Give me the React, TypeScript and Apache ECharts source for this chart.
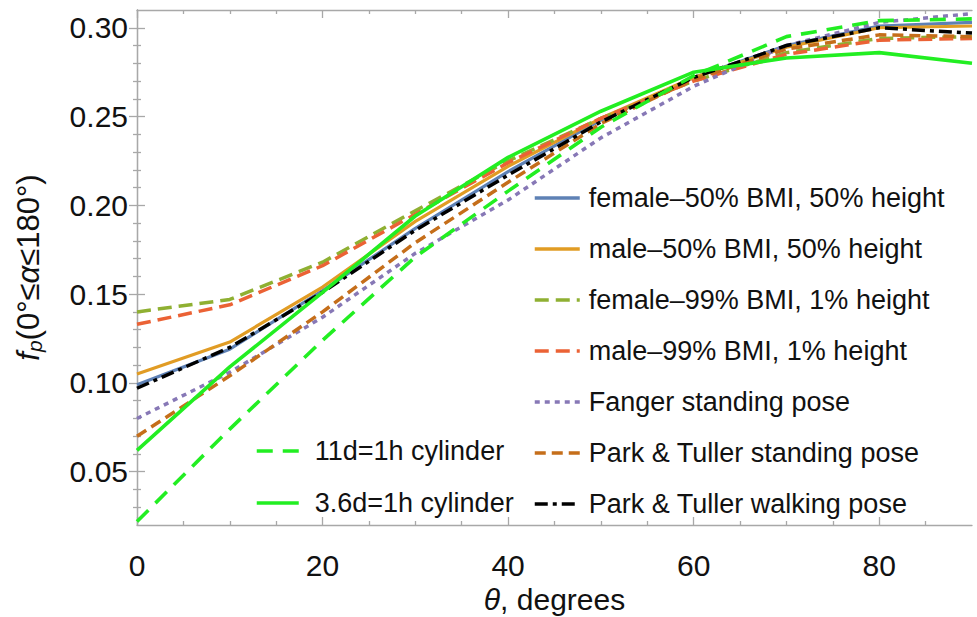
import React, { useEffect, useRef } from 'react';
import * as echarts from 'echarts';

const theta = [0, 10, 20, 30, 40, 50, 60, 70, 80, 90];

const female50 = [0.099, 0.119, 0.152, 0.187, 0.219, 0.248, 0.272, 0.290, 0.301, 0.303];
const male50 = [0.105, 0.123, 0.154, 0.191, 0.222, 0.249, 0.272, 0.289, 0.300, 0.301];
const female99 = [0.140, 0.147, 0.168, 0.197, 0.225, 0.249, 0.270, 0.286, 0.294, 0.295];
const male99 = [0.133, 0.144, 0.166, 0.195, 0.224, 0.249, 0.270, 0.285, 0.293, 0.294];
const fanger = [0.080, 0.106, 0.137, 0.173, 0.203, 0.238, 0.267, 0.290, 0.303, 0.308];
const ptStanding = [0.070, 0.104, 0.140, 0.179, 0.213, 0.246, 0.271, 0.288, 0.296, 0.295];
const ptWalking = [0.097, 0.120, 0.151, 0.186, 0.217, 0.247, 0.272, 0.290, 0.300, 0.297];
const cyl11 = [0.022, 0.074, 0.124, 0.171, 0.208, 0.244, 0.273, 0.295, 0.304, 0.305];
const cyl36 = [0.062, 0.109, 0.151, 0.194, 0.227, 0.253, 0.275, 0.283, 0.286, 0.280];

const xMajor = [0, 20, 40, 60, 80];
const xMinor = [5, 10, 15, 25, 30, 35, 45, 50, 55, 65, 70, 75, 85];
const yMajor = [0.05, 0.1, 0.15, 0.2, 0.25, 0.3];
const yMinor = [0.03, 0.04, 0.06, 0.07, 0.08, 0.09, 0.11, 0.12, 0.13, 0.14, 0.16, 0.17, 0.18, 0.19,
  0.21, 0.22, 0.23, 0.24, 0.26, 0.27, 0.28, 0.29];

const names = [
  'female–50% BMI, 50% height',
  'male–50% BMI, 50% height',
  'female–99% BMI, 1% height',
  'male–99% BMI, 1% height',
  'Fanger standing pose',
  'Park & Tuller standing pose',
  'Park & Tuller walking pose',
  '11d=1h cylinder',
  '3.6d=1h cylinder',
];

const FONT = '"Liberation Sans", Arial, Helvetica, sans-serif';
const FRAME = '#a8a8a8';
const TEXT = '#111111';

export default function App() {
  const ref = useRef<HTMLDivElement>(null);
  useEffect(() => {
    const chart = echarts.init(ref.current!, null, { renderer: 'svg' });
    const mk = (name: string, vals: number[], color: string, type: any, width = 3) => ({
      name,
      type: 'line',
      data: theta.map((t, i) => [t, vals[i]]),
      symbol: 'none',
      showSymbol: false,
      lineStyle: { color, width, type },
      itemStyle: { color },
      emphasis: { disabled: true },
    });
    const xCommon = { type: 'value', min: 0, max: 90, splitLine: { show: false } };
    const yCommon = { type: 'value', min: 0.02, max: 0.31, splitLine: { show: false } };
    const tickStyle = { color: FRAME, width: 1.3 };
    const legendCommon = {
      orient: 'vertical',
      selectedMode: false,
      itemHeight: 20,
      itemStyle: { opacity: 0 },
      lineStyle: { width: 3.5 },
      textStyle: { fontSize: 27, color: TEXT, fontFamily: FONT, lineHeight: 30 },
    };
    const option: any = {
      animation: false,
      grid: { left: 137, right: 5, top: 10, bottom: 92, containLabel: false, outerBoundsMode: 'none' },
      xAxis: [
        {
          ...xCommon, position: 'bottom',
          axisLine: { show: true, lineStyle: tickStyle },
          axisTick: { show: true, inside: true, length: 8, customValues: xMajor, lineStyle: tickStyle },
          axisLabel: { customValues: xMajor, fontSize: 30, color: TEXT, margin: 25, fontFamily: FONT },
          name: '{i|θ}, degrees', nameLocation: 'middle', nameGap: 57,
          nameTextStyle: { fontSize: 30, lineHeight: 30, color: TEXT, fontFamily: FONT, rich: { i: { fontSize: 30, lineHeight: 30, fontStyle: 'italic', color: TEXT, fontFamily: FONT } } },
        },
        {
          ...xCommon, position: 'bottom',
          axisLine: { show: false },
          axisTick: { show: true, inside: true, length: 4, customValues: xMinor, lineStyle: tickStyle },
          axisLabel: { show: false },
        },
        {
          ...xCommon, position: 'top',
          axisLine: { show: true, lineStyle: tickStyle },
          axisTick: { show: true, inside: true, length: 8, customValues: xMajor, lineStyle: tickStyle },
          axisLabel: { show: false },
        },
        {
          ...xCommon, position: 'top',
          axisLine: { show: false },
          axisTick: { show: true, inside: true, length: 4, customValues: xMinor, lineStyle: tickStyle },
          axisLabel: { show: false },
        },
      ],
      yAxis: [
        {
          ...yCommon, position: 'left',
          axisLine: { show: true, lineStyle: tickStyle },
          axisTick: { show: true, inside: true, length: 8, customValues: yMajor, lineStyle: tickStyle },
          axisLabel: { customValues: yMajor, fontSize: 30, color: TEXT, margin: 9, fontFamily: FONT, formatter: (v: number) => v.toFixed(2) },
          name: '{i|f}{sub|p}(0°≤{i|α}≤180°)', nameLocation: 'middle', nameGap: 92, nameRotate: 90,
          nameTextStyle: {
            fontSize: 31, color: TEXT, fontFamily: FONT,
            rich: {
              i: { fontSize: 31, fontStyle: 'italic', color: TEXT, fontFamily: FONT },
              sub: { fontSize: 21, fontStyle: 'italic', color: TEXT, fontFamily: FONT, padding: [13, 0, 0, 0] },
            },
          },
        },
        {
          ...yCommon, position: 'left',
          axisLine: { show: false },
          axisTick: { show: true, inside: true, length: 4, customValues: yMinor, lineStyle: tickStyle },
          axisLabel: { show: false },
        },
        {
          ...yCommon, position: 'right',
          axisLine: { show: true, lineStyle: tickStyle },
          axisTick: { show: true, inside: true, length: 8, customValues: yMajor, lineStyle: tickStyle },
          axisLabel: { show: false },
        },
        {
          ...yCommon, position: 'right',
          axisLine: { show: false },
          axisTick: { show: true, inside: true, length: 4, customValues: yMinor, lineStyle: tickStyle },
          axisLabel: { show: false },
        },
      ],
      legend: [
        {
          ...legendCommon,
          data: names.slice(0, 7),
          left: 528, top: 178,
          itemWidth: 45, itemGap: 21,
          textStyle: { ...legendCommon.textStyle, padding: [0, 0, 0, 4] },
        },
        {
          ...legendCommon,
          data: names.slice(7),
          left: 250, top: 431,
          itemWidth: 42, itemGap: 22,
          textStyle: { ...legendCommon.textStyle, padding: [0, 0, 0, 11] },
        },
      ],
      series: [
        mk(names[0], female50, '#5E81B5', 'solid', 3.2),
        mk(names[1], male50, '#E19C24', 'solid', 3.2),
        mk(names[2], female99, '#8FB032', [14, 7], 3.5),
        mk(names[3], male99, '#EB6235', [14, 7], 3.5),
        mk(names[4], fanger, '#8778B6', [5, 5], 3.5),
        mk(names[5], ptStanding, '#C56E1A', [11, 6], 3.5),
        mk(names[6], ptWalking, '#000000', [13, 5, 4, 5], 3.5),
        mk(names[7], cyl11, '#22EE22', [16, 10], 3.6),
        mk(names[8], cyl36, '#22EE22', 'solid', 3.6),
      ],
    };
    chart.setOption(option);
    return () => chart.dispose();
  }, []);
  return <div ref={ref} style={{ position: 'fixed', left: 0, top: 0, width: 977, height: 617, background: '#fff' }} />;
}
